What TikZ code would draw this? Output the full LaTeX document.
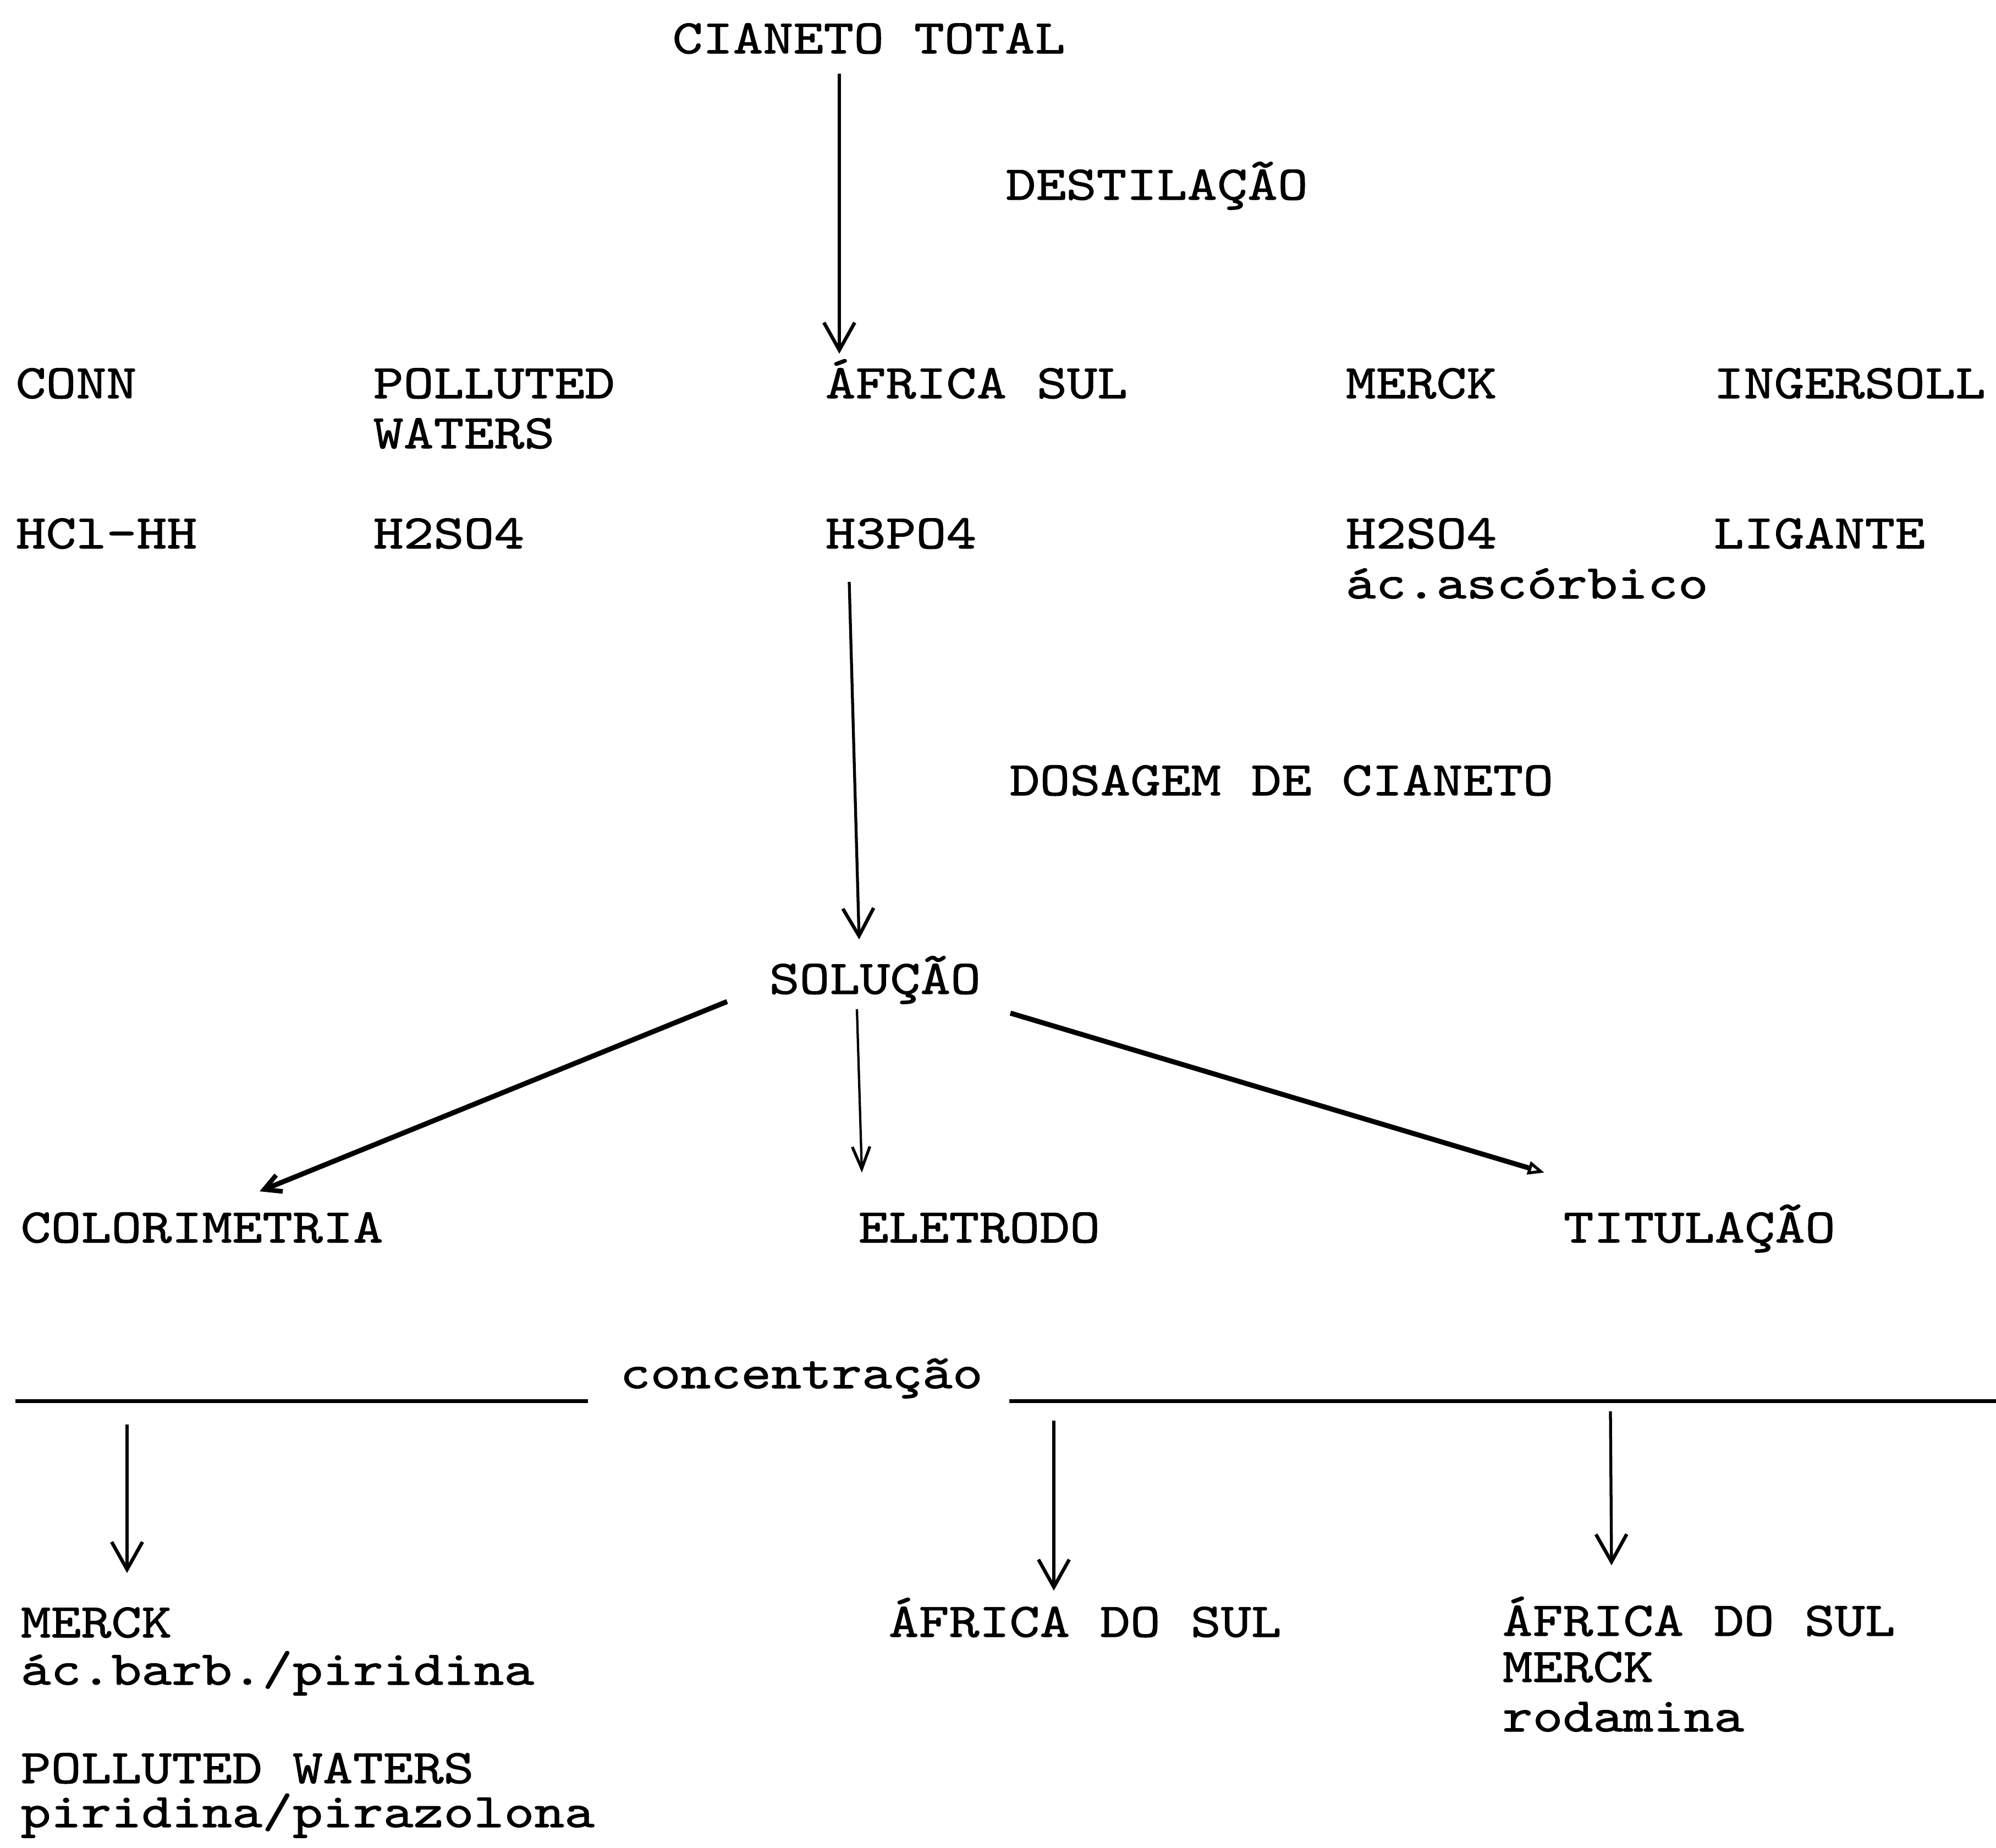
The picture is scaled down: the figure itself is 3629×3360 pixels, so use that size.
\documentclass[tikz,border=0pt]{standalone}
\usepackage{fontspec}
\usetikzlibrary{arrows.meta}
\newfontfamily\twfont[FakeStretch=1.19,FakeBold=1.2]{lmmono10-regular.otf}
\newcommand{\typewr}{\fontsize{25}{30}\twfont}
\begin{document}
\begin{tikzpicture}[x=0.01cm,y=-0.01cm,
  lbl/.style={anchor=base west, inner sep=0pt, font=\typewr},
  arr/.style={line width=1.5pt, -{Straight Barb[length=0.5cm, width=0.56cm, line width=1.8pt]}},
  arrthin/.style={line width=1.2pt, -{Straight Barb[length=0.4cm, width=0.32cm, line width=1.5pt]}},
  arrthick/.style={line width=2.6pt, -{Straight Barb[length=0.3cm, width=0.32cm, line width=2.4pt]}},
  arrtri/.style={line width=2.6pt, -{Triangle[open, length=0.3cm, width=0.24cm, line width=1.5pt]}},
  rule/.style={line width=2pt}]
\useasboundingbox (0,0) rectangle (3629,3360);

% texts
\node[lbl] (ct)   at (1222,97)   {CIANETO TOTAL};
\node[lbl] (dest) at (1828,363)  {DESTILAÇÃO};
\node[lbl] (conn) at (28,724)    {CONN};
\node[lbl] (pol1) at (678,724)   {POLLUTED};
\node[lbl] (pol2) at (678,815)   {WATERS};
\node[lbl] (afs)  at (1500,724)  {ÁFRICA SUL};
\node[lbl] (mer)  at (2446,724)  {MERCK};
\node[lbl] (ing)  at (3115,724)  {INGERSOLL};
\node[lbl] (hcl)  at (28,997)    {HCl-HH};
\node[lbl] (h2a)  at (678,997)   {H2SO4};
\node[lbl] (h3)   at (1500,997)  {H3PO4};
\node[lbl] (h2b)  at (2446,997)  {H2SO4};
\node[lbl] (asc)  at (2446,1088) {ác.ascórbico};
\node[lbl] (lig)  at (3115,997)  {LIGANTE};
\node[lbl] (dos)  at (1835,1446) {DOSAGEM DE CIANETO};
\node[lbl] (sol)  at (1398,1807) {SOLUÇÃO};
\node[lbl] (col)  at (37,2259)   {COLORIMETRIA};
\node[lbl] (ele)  at (1560,2259) {ELETRODO};
\node[lbl] (tit)  at (2842,2259) {TITULAÇÃO};
\node[lbl] (conc) at (1127,2524) {concentração};
\node[lbl] (m1)   at (37,2977)   {MERCK};
\node[lbl] (m2)   at (37,3063)   {ác.barb./piridina};
\node[lbl] (m3)   at (37,3242)   {POLLUTED WATERS};
\node[lbl] (m4)   at (37,3322)   {piridina/pirazolona};
\node[lbl] (afds) at (1615,2976) {ÁFRICA DO SUL};
\node[lbl] (t1)   at (2731,2974) {ÁFRICA DO SUL};
\node[lbl] (t2)   at (2731,3058) {MERCK};
\node[lbl] (t3)   at (2731,3148) {rodamina};

% connector end points
\coordinate (a1s) at (1526,134);  \coordinate (a1e) at (1526,643);
\coordinate (a2s) at (1544,1058); \coordinate (a2e) at (1562,1708);
\coordinate (a3s) at (1322,1821); \coordinate (a3e) at (472,2166);
\coordinate (a4s) at (1558,1835); \coordinate (a4e) at (1567,2132);
\coordinate (a5s) at (1837,1842); \coordinate (a5e) at (2808,2132);
\coordinate (a6s) at (231,2590);  \coordinate (a6e) at (231,2860);
\coordinate (a7s) at (1916,2583); \coordinate (a7e) at (1916,2892);
\coordinate (a8s) at (2928,2566); \coordinate (a8e) at (2930,2846);
\coordinate (rl1) at (28,2547);   \coordinate (rl2) at (1069,2547);
\coordinate (rr1) at (1835,2547); \coordinate (rr2) at (3629,2547);

% connectors
\draw[arr] (a1s) -- (a1e);
\draw[arr] (a2s) -- (a2e);
\draw[arrthick] (a3s) -- (a3e);
\draw[arrthin] (a4s) -- (a4e);
\draw[arrtri] (a5s) -- (a5e);
\draw[arr] (a6s) -- (a6e);
\draw[arr] (a7s) -- (a7e);
\draw[arr] (a8s) -- (a8e);
\draw[rule] (rl1) -- (rl2);
\draw[rule] (rr1) -- (rr2);
\end{tikzpicture}
\end{document}
